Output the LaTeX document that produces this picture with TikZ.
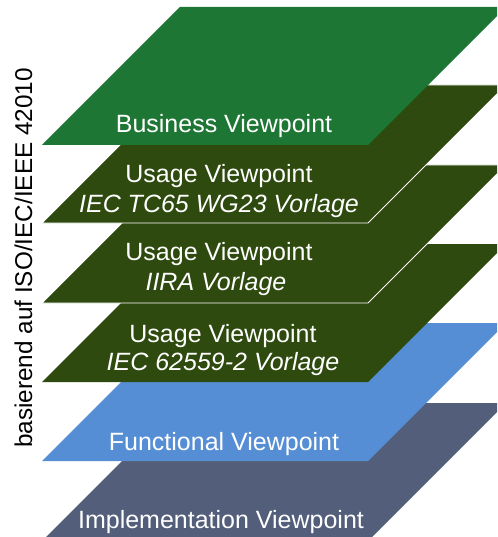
\documentclass[tikz,border=0pt]{standalone}
\usepackage{fontspec}
\setmainfont{Liberation Sans}
\definecolor{busgreen}{RGB}{30,118,52}
\definecolor{usagegreen}{RGB}{46,74,14}
\definecolor{funcblue}{RGB}{85,142,213}
\definecolor{implslate}{RGB}{83,94,122}
\tikzset{
  lbl/.style={text=white, font=\fontsize{25}{29}\selectfont, anchor=base, inner sep=0pt},
  ilbl/.style={lbl, font=\fontsize{25}{29}\selectfont\itshape},
  sidelbl/.style={lbl, text=black, font=\fontsize{24.3}{29}\selectfont, rotate=90},
  outl/.style={draw=white, line width=0.9pt},
}
\newcommand\plate[3][]{% [style] {colour} {bottom y}
  \path[fill=#2,#1] (42,-#3) -- (368,-#3) -- (506,-#3+138) -- (180,-#3+138) -- cycle;}
\begin{document}
\begin{tikzpicture}[x=1pt,y=1pt]
\useasboundingbox (0,0) rectangle (497,-537);
\begin{scope}
\clip (0,0) rectangle (497,-537);
\plate{implslate}{541}
\plate{funcblue}{461}
\plate{usagegreen}{382}
\plate[outl]{usagegreen}{303}
\plate[outl]{usagegreen}{223}
\plate{busgreen}{145}
\end{scope}
\node[lbl] (bus) at (224,-133) {Business Viewpoint};
\node[lbl] (u1a) at (219,-183) {Usage Viewpoint};
\node[ilbl] (u1b) at (219,-212) {IEC TC65 WG23 Vorlage};
\node[lbl] (u2a) at (219,-260) {Usage Viewpoint};
\node[ilbl] (u2b) at (216,-290) {IIRA Vorlage};
\node[lbl] (u3a) at (223,-342) {Usage Viewpoint};
\node[ilbl] (u3b) at (223,-370) {IEC 62559-2 Vorlage};
\node[lbl] (fun) at (224,-450) {Functional Viewpoint};
\node[lbl] (imp) at (221,-528) {Implementation Viewpoint};
\node[sidelbl] (side) at (32,-258) {basierend auf ISO/IEC/IEEE 42010};
\end{tikzpicture}
\end{document}
